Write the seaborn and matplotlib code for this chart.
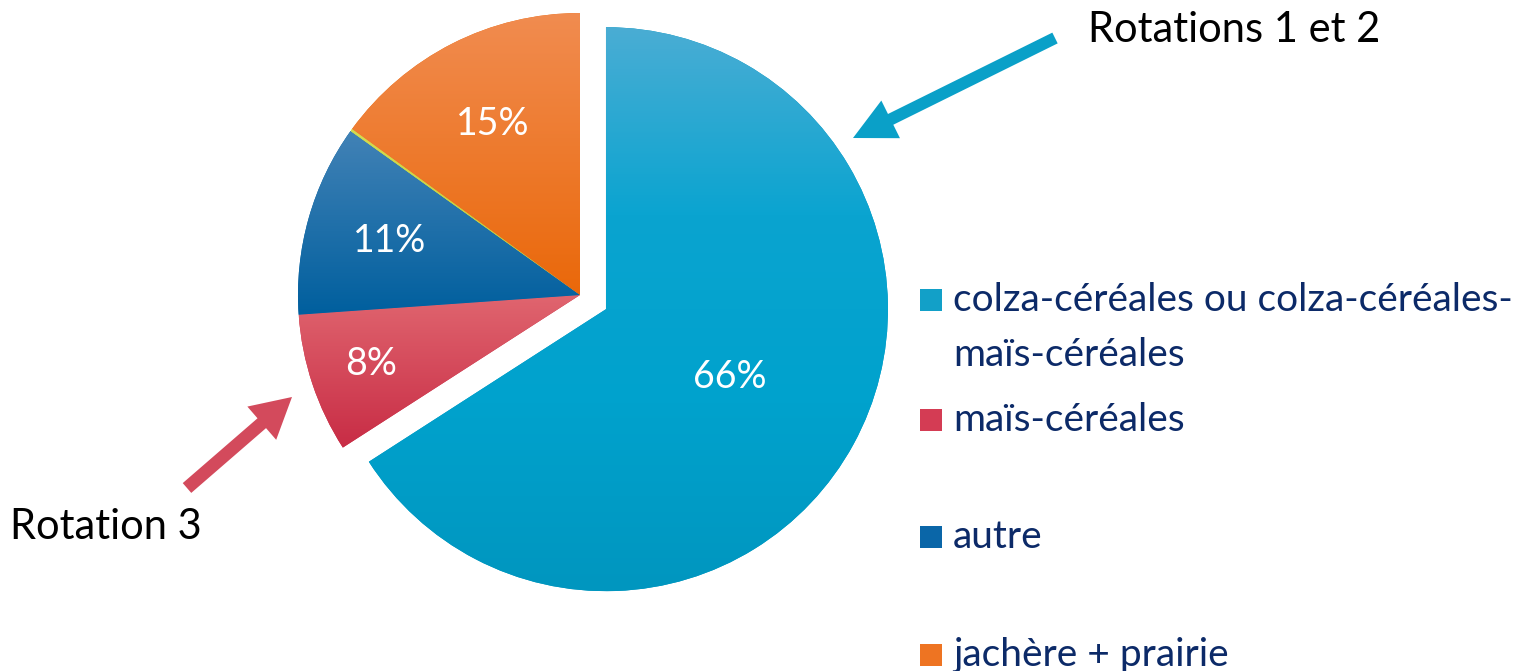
import numpy as np
import matplotlib

matplotlib.use("Agg")
import matplotlib.pyplot as plt
import seaborn as sns
from matplotlib.colors import LinearSegmentedColormap
from matplotlib.patches import FancyArrow, Rectangle

# slices, clockwise from 12 o'clock
categories = ["colza-céréales ou colza-céréales-\nmaïs-céréales", "maïs-céréales", "autre", "", "jachère + prairie"]
shares = [66, 8, 11, 0.15, 15]
pct_labels = ["66%", "8%", "11%", "", "15%"]
explode_px = [29.6, 0, 0, 0, 0]
# gradient stops, bottom -> top
gradients = [
    ["#0096bf", "#00a2cd", "#0aa4d0", "#4aadd4"],
    ["#c82c45", "#e0656f"],
    ["#005f9e", "#4282b6"],
    ["#c0cc30", "#d4dc50"],
    ["#ea680a", "#f18c50"],
]
legend_colors = ["#12a0c8", "#d43c54", "#0a66a8", None, "#ee7422"]
pct_dist = [0.5, 0.78, 0.70, 0, 0.68]

W, H = 1523, 671
NAVY = "#0c2a68"

sns.set_theme(style="white")
plt.rcParams["font.family"] = ["Lato", "DejaVu Sans"]

fig = plt.figure(figsize=(W / 100, H / 100), dpi=100)
ax = fig.add_axes([0, 0, 1, 1])

cx, cy, r = 580, H - 295, 282
wedges, _ = ax.pie(shares, explode=explode_px, startangle=90, counterclock=False,
                   center=(cx, cy), radius=r, colors=[g[0] for g in gradients],
                   wedgeprops=dict(linewidth=0), frame=True)

grad = np.linspace(0, 1, 256).reshape(-1, 1)
for w, stops, d, lab in zip(wedges, gradients, pct_dist, pct_labels):
    cmap = LinearSegmentedColormap.from_list("g", stops)
    bb = w.get_path().get_extents()
    im = ax.imshow(grad, cmap=cmap, origin="lower", aspect="auto",
                   extent=(bb.x0, bb.x1, bb.y0, bb.y1), zorder=2)
    im.set_clip_path(w)
    w.set_zorder(1)
    if lab:
        mid = np.deg2rad((w.theta1 + w.theta2) / 2)
        wx, wy = w.center
        ax.text(wx + d * r * np.cos(mid), wy + d * r * np.sin(mid), lab,
                ha="center", va="center", color="white", fontsize=27, zorder=3)

ax.set_xlim(0, W)
ax.set_ylim(0, H)
ax.set_aspect("equal")
ax.axis("off")

# legend
leg_y = [H - 300, H - 420, H - 537, H - 655]
k = 0
for name, col in zip(categories, legend_colors):
    if col is None:
        continue
    y = leg_y[k]
    k += 1
    ax.add_patch(Rectangle((920, y - 11), 22, 22, color=col, lw=0))
    for i, line in enumerate(name.split("\n")):
        ax.text(953, y - 55 * i, line, ha="left", va="center", color=NAVY, fontsize=28)

# arrows and callouts
ax.add_patch(FancyArrow(1055, H - 38, 853 - 1055, 38 - 138, width=12,
                        head_width=42, head_length=42, length_includes_head=True,
                        color="#0aa0c8", lw=0))
ax.add_patch(FancyArrow(187, H - 488, 292 - 187, 488 - 397, width=13,
                        head_width=44, head_length=40, length_includes_head=True,
                        color="#d34a5c", lw=0))
ax.text(1088, H - 30, "Rotations 1 et 2", ha="left", va="center", fontsize=30, color="black")
ax.text(10, H - 527, "Rotation 3", ha="left", va="center", fontsize=30, color="black")

fig.savefig("out.png", dpi=100)
